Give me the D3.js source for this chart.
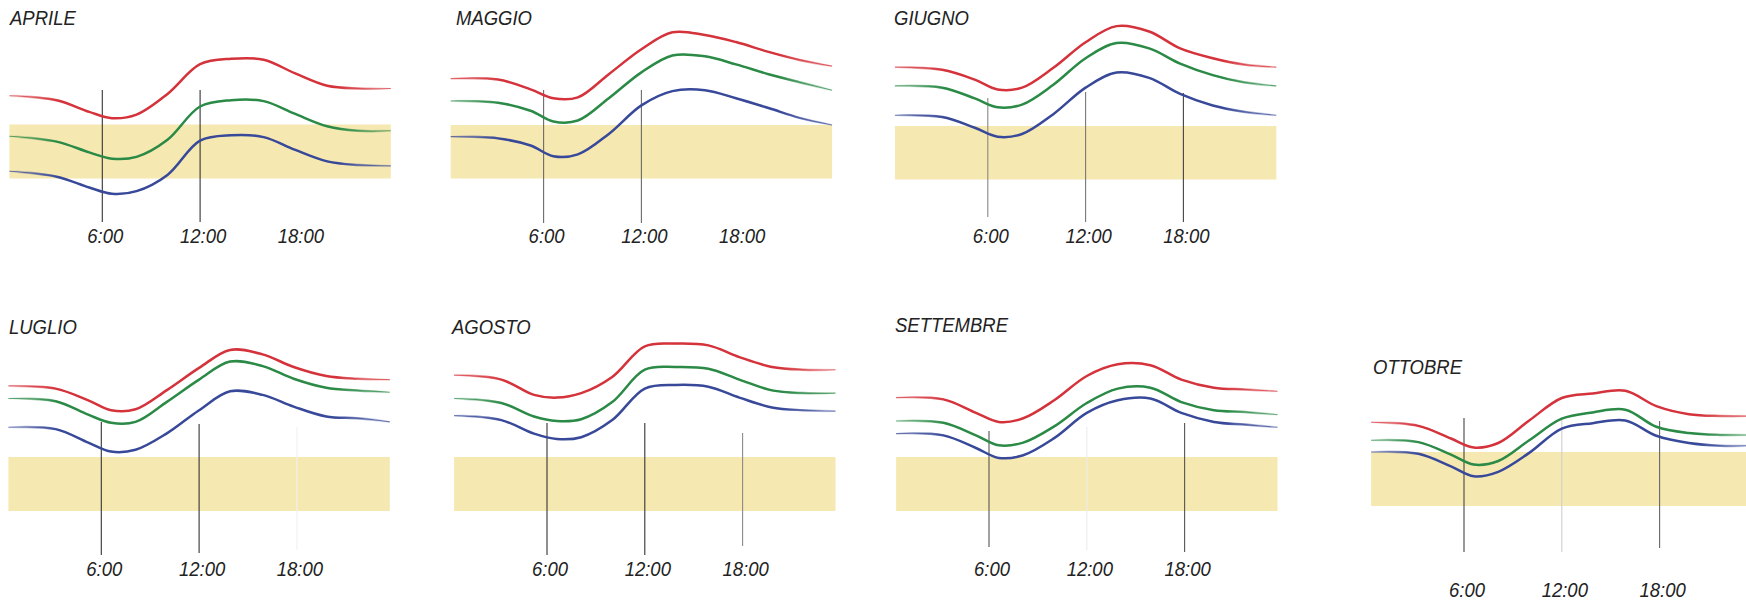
<!DOCTYPE html>
<html>
<head>
<meta charset="utf-8">
<script src="https://cdn.jsdelivr.net/npm/d3@7"></script>
<style>
  html, body { margin: 0; padding: 0; background: #ffffff; }
  svg { display: block; }
  text { font-family: "Liberation Sans", Arial, sans-serif; font-style: italic; fill: #222; }
</style>
</head>
<body>
<svg id="chart" width="1746" height="600"></svg>
<script>
// ---- DATA ----
const months = ["APRILE", "MAGGIO", "GIUGNO", "LUGLIO", "AGOSTO", "SETTEMBRE", "OTTOBRE"];
const hours = [0.3, 3.2, 5.2, 6.6, 8.1, 10.0, 12.0, 13.9, 15.9, 17.8, 19.8, 21.7, 23.7];
const tickHours = [6, 12, 18];
const tickLabels = ["6:00", "12:00", "18:00"];
const comfortBand = [20, 26];
const bandHours = [0.3, 23.7];

// red (upper) series, one row per month
const redSeries = [
  [29.2, 28.7, 27.4, 26.7, 27.1, 29.4, 32.7, 33.3, 33.2, 31.7, 30.3, 30.0, 30.0],
  [31.2, 31.1, 30.0, 29.0, 29.1, 31.7, 34.5, 36.4, 36.1, 35.3, 34.2, 33.3, 32.6],
  [32.6, 32.3, 31.2, 30.1, 30.3, 32.5, 35.4, 37.2, 36.6, 34.7, 33.6, 32.9, 32.6],
  [33.9, 33.6, 32.3, 31.2, 31.3, 33.4, 35.9, 37.9, 37.4, 36.0, 35.0, 34.7, 34.6],
  [35.1, 34.6, 32.9, 32.6, 33.1, 34.9, 38.3, 38.6, 38.4, 37.1, 36.0, 35.7, 35.7],
  [32.6, 32.4, 30.9, 29.9, 30.3, 32.3, 35.0, 36.3, 36.2, 34.6, 33.7, 33.5, 33.3],
  [29.3, 28.9, 27.5, 26.5, 27.0, 29.5, 32.0, 32.5, 32.8, 31.1, 30.2, 30.0, 30.0]
];
// green (middle) series
const greenSeries = [
  [24.7, 24.1, 22.9, 22.2, 22.4, 24.3, 28.0, 28.7, 28.6, 27.2, 25.8, 25.3, 25.3],
  [28.7, 28.5, 27.6, 26.4, 26.5, 29.0, 31.9, 33.8, 33.7, 32.8, 31.7, 30.8, 29.9],
  [30.5, 30.3, 29.1, 28.1, 28.4, 30.6, 33.6, 35.3, 34.7, 33.0, 31.7, 30.9, 30.5],
  [32.5, 32.2, 30.7, 29.8, 29.9, 32.1, 34.6, 36.6, 36.1, 34.7, 33.7, 33.4, 33.2],
  [32.5, 32.0, 30.5, 30.0, 30.2, 32.1, 35.7, 36.0, 35.8, 34.6, 33.4, 33.1, 33.1],
  [30.0, 29.8, 28.4, 27.3, 27.6, 29.4, 32.0, 33.6, 33.7, 32.1, 31.2, 31.0, 30.7],
  [27.3, 27.1, 25.7, 24.6, 25.0, 27.3, 29.7, 30.4, 30.7, 28.8, 28.1, 27.9, 27.9]
];
// blue (lower) series
const blueSeries = [
  [20.8, 20.2, 19.0, 18.3, 18.6, 20.4, 24.2, 24.8, 24.6, 23.2, 21.9, 21.5, 21.4],
  [24.7, 24.5, 23.7, 22.5, 22.7, 25.0, 28.2, 29.8, 29.9, 29.0, 27.9, 26.8, 26.0],
  [27.2, 27.0, 25.8, 24.8, 25.1, 27.3, 30.3, 32.0, 31.4, 29.6, 28.3, 27.6, 27.2],
  [29.3, 29.1, 27.6, 26.6, 26.8, 28.6, 31.2, 33.3, 32.9, 31.6, 30.5, 30.3, 29.9],
  [30.6, 30.1, 28.6, 28.0, 28.2, 30.1, 33.6, 34.0, 33.8, 32.6, 31.5, 31.2, 31.1],
  [28.6, 28.4, 27.0, 25.9, 26.2, 28.1, 30.9, 32.3, 32.5, 30.9, 29.9, 29.6, 29.3],
  [26.0, 25.8, 24.4, 23.3, 23.8, 25.9, 28.6, 29.2, 29.5, 27.8, 27.0, 26.7, 26.7]
];

// ---- LAYOUT / STYLE ----
const pxPerHour = 16.3;
const layout = [
  { x0: 4.5,    bandTop: 124.5, bandBottom: 178.5, titleX: 10,   titleY: 25,    labelY: 243,
    guides: [[90, 222, "#333"], [90, 222, "#333"], null] },
  { x0: 445.8,  bandTop: 125,   bandBottom: 178.5, titleX: 456,  titleY: 25,    labelY: 243,
    guides: [[90, 223, "#6a6a6a"], [90, 223, "#6a6a6a"], null] },
  { x0: 890,    bandTop: 126,   bandBottom: 179.5, titleX: 894,  titleY: 25,    labelY: 243,
    guides: [[98, 217, "#888"], [92, 222, "#777"], [93, 222, "#444"]] },
  { x0: 3.5,    bandTop: 457,   bandBottom: 511,   titleX: 9,    titleY: 333.5, labelY: 576,
    guides: [[422, 555, "#333"], [424, 553, "#333"], [427, 550, "#f2f2f2"]] },
  { x0: 449.2,  bandTop: 457,   bandBottom: 511,   titleX: 452,  titleY: 333.5, labelY: 576,
    guides: [[423, 555, "#333"], [423, 555, "#333"], [433, 546, "#8a8a8a"]] },
  { x0: 891.2,  bandTop: 457,   bandBottom: 511,   titleX: 895,  titleY: 331.5, labelY: 576,
    guides: [[431, 547, "#555"], [427, 550, "#ececec"], [423, 552, "#555"]] },
  { x0: 1366.2, bandTop: 452,   bandBottom: 506,   titleX: 1373, titleY: 373.5, labelY: 597,
    guides: [[418, 552, "#444"], [418, 552, "#cfcfcf"], [421, 548, "#666"]] }
];
const seriesDefs = [
  { data: redSeries,   color: "#d5333b" },
  { data: greenSeries, color: "#2a8a46" },
  { data: blueSeries,  color: "#38499a" }
];
const bandColor = "#f6e8b1";

// ---- DRAW ----
const svg = d3.select("#chart");
svg.append("rect").attr("width", 1746).attr("height", 600).attr("fill", "#fff");
const defs = svg.append("defs");

months.forEach((m, i) => {
  const L = layout[i];
  const x = d3.scaleLinear().domain([0, 24]).range([L.x0, L.x0 + 24 * pxPerHour]);
  const y = d3.scaleLinear().domain(comfortBand).range([L.bandBottom, L.bandTop]);
  const g = svg.append("g");

  // taper mask (thick stroke fades out towards the ends)
  const gid = "grad" + i, mid = "mask" + i;
  const grad = defs.append("linearGradient").attr("id", gid)
    .attr("gradientUnits", "userSpaceOnUse")
    .attr("x1", x(hours[0])).attr("x2", x(hours[hours.length - 1]))
    .attr("y1", 0).attr("y2", 0);
  [[0, "#000"], [0.13, "#fff"], [0.86, "#fff"], [1, "#000"]].forEach(([o, c]) =>
    grad.append("stop").attr("offset", o).attr("stop-color", c));
  defs.append("mask").attr("id", mid).attr("maskUnits", "userSpaceOnUse")
    .attr("x", 0).attr("y", 0).attr("width", 1746).attr("height", 600)
    .append("rect").attr("x", 0).attr("y", 0).attr("width", 1746).attr("height", 600)
    .attr("fill", `url(#${gid})`);

  // title (slightly tall lettering, as in the original)
  g.append("text")
    .attr("transform", `translate(${L.titleX},${L.titleY}) scale(1,1.13)`)
    .attr("font-size", 18.5).text(m);

  // comfort band
  g.append("rect")
    .attr("x", x(bandHours[0])).attr("width", x(bandHours[1]) - x(bandHours[0]))
    .attr("y", y(comfortBand[1])).attr("height", y(comfortBand[0]) - y(comfortBand[1]))
    .attr("fill", bandColor);

  // guide lines
  tickHours.forEach((h, k) => {
    const gd = L.guides[k];
    if (!gd) return;
    g.append("line")
      .attr("x1", x(h)).attr("x2", x(h))
      .attr("y1", gd[0]).attr("y2", gd[1])
      .attr("stroke", gd[2]).attr("stroke-width", 1.1);
  });

  // tick labels
  g.selectAll("text.tick").data(tickHours).join("text")
    .attr("class", "tick")
    .attr("transform", d => `translate(${x(d) + 3},${L.labelY}) scale(1,1.06)`)
    .attr("text-anchor", "middle").attr("font-size", 18.5)
    .text((d, k) => tickLabels[k]);

  // series curves
  const line = d3.line()
    .x((d, k) => x(hours[k]))
    .y(d => y(d))
    .curve(d3.curveCatmullRom.alpha(0.5));
  seriesDefs.forEach(s => {
    const vals = s.data[i];
    g.append("path").attr("d", line(vals))
      .attr("fill", "none").attr("stroke", s.color)
      .attr("stroke-width", 1.1).attr("stroke-opacity", 0.75);
    g.append("path").attr("d", line(vals))
      .attr("fill", "none").attr("stroke", s.color)
      .attr("stroke-width", 2.5).attr("stroke-linecap", "round")
      .attr("mask", `url(#${mid})`);
  });
});
</script>
</body>
</html>
